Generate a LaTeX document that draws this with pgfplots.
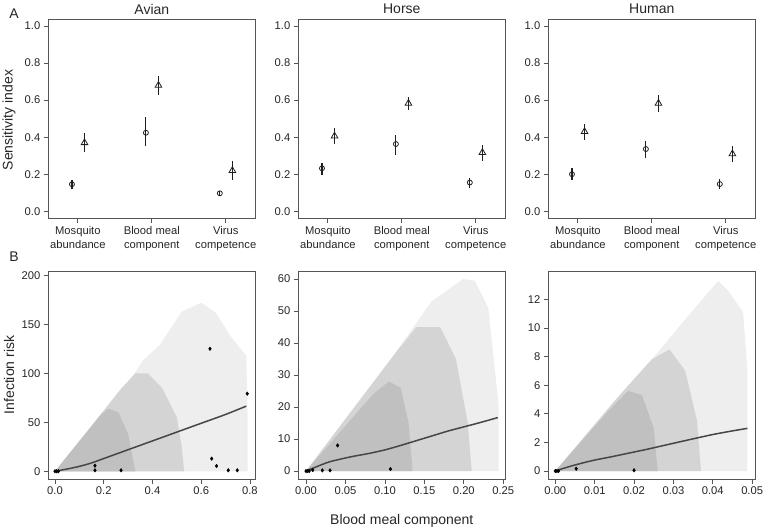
\documentclass[border=0pt]{standalone}
\usepackage{pgfplots}
\pgfplotsset{compat=1.18}
\usepackage{fontspec}
\setmainfont{Liberation Sans}
\definecolor{cloudA}{RGB}{192,192,192}
\definecolor{cloudB}{RGB}{212,212,212}
\definecolor{cloudC}{RGB}{238,238,238}
\definecolor{boxc}{RGB}{85,85,85}
\definecolor{inkc}{RGB}{30,30,30}
\definecolor{linec}{RGB}{70,70,70}
\pgfplotsset{
  common/.style={scale only axis, width=207pt, tick align=outside, tick pos=left,
    major tick length=4.5pt, scaled ticks=false,
    axis line style={boxc, line width=0.9pt}, tick style={boxc, line width=0.8pt},
    ticklabel style={font=\fontsize{11.2}{13}\selectfont, text=black!85},
    /pgf/number format/assume math mode=true},
  topax/.style={common, height=199.3pt, xmin=0.6, xmax=3.4, ymin=-0.038, ymax=1.038,
    xtick={1,2,3},
    xticklabels={{Mosquito\\abundance},{Blood meal\\component},{Virus\\competence}},
    xticklabel style={align=center, font=\fontsize{11.2}{14}\selectfont},
    ytick={0,0.2,0.4,0.6,0.8,1}, yticklabels={0.0,0.2,0.4,0.6,0.8,1.0}},
  botax/.style={common, height=207.3pt},
  first/.style={only marks, mark=o, mark size=2.5pt, inkc,
    mark options={inkc, line width=0.8pt},
    error bars/y dir=both, error bars/y explicit, error bars/error mark=none,
    error bars/error bar style={inkc, line width=1.1pt}},
  total/.style={only marks, mark=triangle, mark size=3.8pt, inkc,
    mark options={inkc, line width=0.8pt},
    error bars/y dir=both, error bars/y explicit, error bars/error mark=none,
    error bars/error bar style={inkc, line width=1.1pt}},
  trend/.style={no marks, linec, line width=1.5pt, smooth, tension=0.4},
  obs/.style={only marks, mark=diamond*, mark size=1.8pt, black, mark options={black}},
}
\begin{document}
\begin{tikzpicture}[x=1pt,y=1pt]
\useasboundingbox (0,0) rectangle (767,-531);

% ---------------- Top row: sensitivity indices ----------------
\begin{axis}[topax, at={(48.3pt,-218.3pt)}, anchor=south west]
\addplot[first] coordinates {
 (0.92,0.146) += (0,0.023) -= (0,0.026)
 (1.92,0.424) += (0,0.086) -= (0,0.074)
 (2.92,0.097) += (0,0.013) -= (0,0.014)};
\addplot[total] coordinates {
 (1.09,0.370) += (0,0.050) -= (0,0.050)
 (2.09,0.680) += (0,0.050) -= (0,0.050)
 (3.09,0.220) += (0,0.050) -= (0,0.050)};
\end{axis}

\begin{axis}[topax, at={(298.3pt,-218.3pt)}, anchor=south west]
\addplot[first] coordinates {
 (0.92,0.232) += (0,0.031) -= (0,0.036)
 (1.92,0.363) += (0,0.049) -= (0,0.059)
 (2.92,0.155) += (0,0.023) -= (0,0.027)};
\addplot[total] coordinates {
 (1.09,0.406) += (0,0.042) -= (0,0.043)
 (2.09,0.583) += (0,0.036) -= (0,0.036)
 (3.09,0.317) += (0,0.041) -= (0,0.044)};
\end{axis}

\begin{axis}[topax, at={(548.3pt,-218.3pt)}, anchor=south west]
\addplot[first] coordinates {
 (0.92,0.200) += (0,0.032) -= (0,0.030)
 (1.92,0.336) += (0,0.044) -= (0,0.046)
 (2.92,0.147) += (0,0.027) -= (0,0.027)};
\addplot[total] coordinates {
 (1.09,0.430) += (0,0.040) -= (0,0.045)
 (2.09,0.583) += (0,0.045) -= (0,0.045)
 (3.09,0.310) += (0,0.044) -= (0,0.042)};
\end{axis}

% ---------------- Bottom row: infection risk ----------------
\begin{axis}[botax, at={(48.3pt,-479pt)}, anchor=south west,
  xmin=-0.0275, xmax=0.822, ymin=-7.9, ymax=203.7,
  xtick={0,0.2,0.4,0.6,0.8}, xticklabels={0.0,0.2,0.4,0.6,0.8},
  ytick={0,50,100,150,200}, yticklabels={0,50,100,150,200}]
\addplot[draw=none, fill=cloudC] coordinates {(0,0) (0.2,62) (0.3,90) (0.36,113) (0.43,129) (0.52,163) (0.6,172) (0.66,162) (0.72,138) (0.785,118) (0.79,60) (0.79,0)} \closedcycle;
\addplot[draw=none, fill=cloudB] coordinates {(0,0) (0.2,62) (0.27,84) (0.33,100) (0.38,100) (0.44,85) (0.5,55) (0.52,25) (0.53,0)} \closedcycle;
\addplot[draw=none, fill=cloudA] coordinates {(0,0) (0.19,58) (0.22,64) (0.26,60) (0.3,38) (0.32,12) (0.33,0)} \closedcycle;
\addplot[trend] coordinates {(0,0) (0.05,2.3) (0.1,5) (0.15,8.5) (0.2,13) (0.3,22) (0.4,31) (0.5,40) (0.6,49) (0.7,58) (0.785,66.5)};
\addplot[obs] coordinates {(0,0) (0.007,0) (0.014,0) (0.164,5.7) (0.164,1) (0.271,1) (0.636,125) (0.643,12.9) (0.663,5.4) (0.711,1) (0.748,1) (0.789,79.2)};
\end{axis}

\begin{axis}[botax, at={(298.3pt,-479pt)}, anchor=south west,
  xmin=-0.0098, xmax=0.2526, ymin=-2.5, ymax=62.3,
  xtick={0,0.05,0.1,0.15,0.2,0.25}, xticklabels={0.00,0.05,0.10,0.15,0.20,0.25},
  ytick={0,10,20,30,40,50,60}, yticklabels={0,10,20,30,40,50,60}]
\addplot[draw=none, fill=cloudC] coordinates {(0,0) (0.117,38.3) (0.159,53) (0.199,60) (0.214,59.5) (0.231,51) (0.244,21) (0.244,0)} \closedcycle;
\addplot[draw=none, fill=cloudB] coordinates {(0,0) (0.117,38) (0.14,45) (0.17,45) (0.19,35) (0.205,15) (0.21,0)} \closedcycle;
\addplot[draw=none, fill=cloudA] coordinates {(0,0) (0.085,24) (0.105,28) (0.12,26) (0.13,15) (0.135,0)} \closedcycle;
\addplot[trend] coordinates {(0,0) (0.01,1) (0.02,2) (0.03,2.9) (0.045,3.8) (0.06,4.6) (0.08,5.5) (0.1,6.6) (0.12,8) (0.14,9.5) (0.16,11) (0.18,12.5) (0.2,13.8) (0.22,15.1) (0.243,16.7)};
\addplot[obs] coordinates {(0,0) (0.002,0) (0.004,0) (0.0085,0.3) (0.0207,0.2) (0.0304,0.2) (0.040,8.0) (0.107,0.6)};
\end{axis}

\begin{axis}[botax, at={(548.3pt,-479pt)}, anchor=south west,
  xmin=-0.00178, xmax=0.0508, ymin=-0.56, ymax=13.93,
  xtick={0,0.01,0.02,0.03,0.04,0.05}, xticklabels={0.00,0.01,0.02,0.03,0.04,0.05},
  ytick={0,2,4,6,8,10,12}, yticklabels={0,2,4,6,8,10,12}]
\addplot[draw=none, fill=cloudC] coordinates {(0,0) (0.016,5.2) (0.0245,7.8) (0.033,10.6) (0.0414,13.3) (0.0439,12.6) (0.0477,11.1) (0.0488,7) (0.0488,0)} \closedcycle;
\addplot[draw=none, fill=cloudB] coordinates {(0,0) (0.016,5.2) (0.0245,7.8) (0.029,8.5) (0.033,7) (0.036,3.5) (0.037,0)} \closedcycle;
\addplot[draw=none, fill=cloudA] coordinates {(0,0) (0.0135,4.2) (0.0185,5.6) (0.022,5.3) (0.025,3) (0.026,0)} \closedcycle;
\addplot[trend] coordinates {(0,0) (0.0025,0.22) (0.005,0.42) (0.0075,0.6) (0.0101,0.77) (0.014,0.98) (0.0185,1.24) (0.023,1.5) (0.027,1.75) (0.031,2) (0.0355,2.28) (0.04,2.55) (0.0445,2.78) (0.0488,2.98)};
\addplot[obs] coordinates {(0,0) (0.0004,0) (0.0008,0) (0.0053,0.16) (0.02,0.05)};
\end{axis}

% ---------------- Text ----------------
\begin{scope}[every node/.style={font=\fontsize{14}{16}\selectfont, text=black!85}]
\node at (151.8,-9) {Avian};
\node at (401.8,-9) {Horse};
\node at (651.8,-9) {Human};
\node at (14,-14) {A};
\node at (14,-257) {B};
\node[rotate=90] at (9,-120) {Sensitivity index};
\node[rotate=90] at (9,-375) {Infection risk};
\node at (401.8,-521) {Blood meal component};
\end{scope}
\end{tikzpicture}
\end{document}
